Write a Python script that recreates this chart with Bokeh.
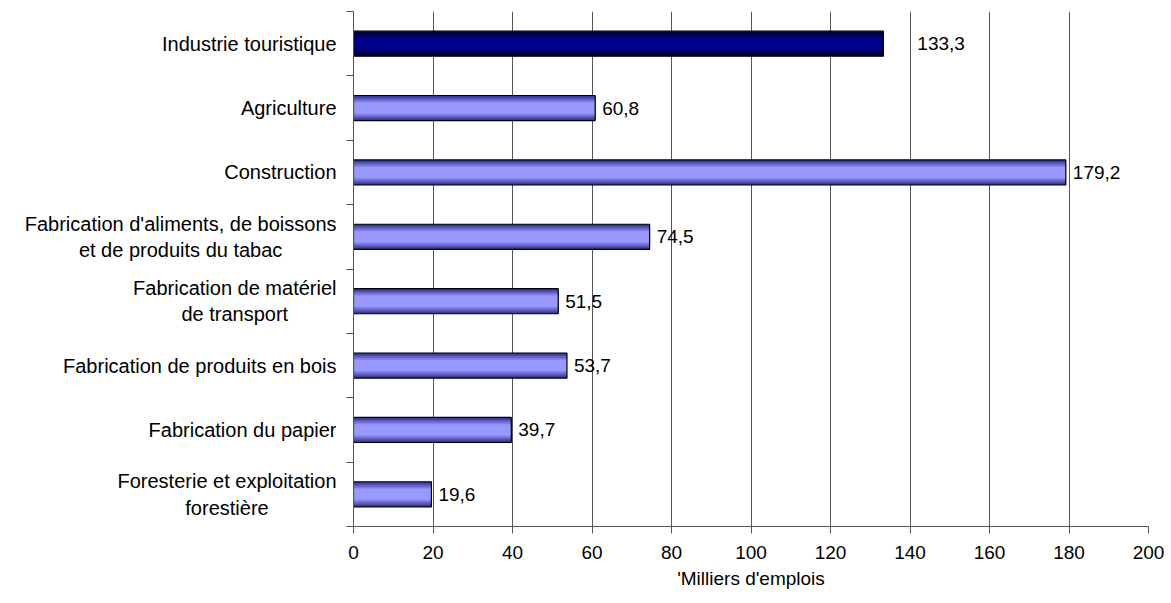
from bokeh.plotting import figure
from bokeh.layouts import row
from bokeh.models import FixedTicker, Range1d, ColumnDataSource, LabelSet
from bokeh.embed import file_html
from bokeh.resources import INLINE
from bokeh.core.properties import value

categories = [
    "Industrie touristique",
    "Agriculture",
    "Construction",
    "Fabrication d'aliments, de boissons\net de produits du tabac",
    "Fabrication de matériel\nde transport",
    "Fabrication de produits en bois",
    "Fabrication du papier",
    "Foresterie et exploitation\nforestière",
]
values = [133.3, 60.8, 179.2, 74.5, 51.5, 53.7, 39.7, 19.6]
value_labels = ["133,3", "60,8", "179,2", "74,5", "51,5", "53,7", "39,7", "19,6"]
x_ticks = [0, 20, 40, 60, 80, 100, 120, 140, 160, 180, 200]
x_title = "'Milliers d'emplois"

FONT = "Liberation Sans"
n = len(categories)
centers = [n - i - 0.5 for i in range(n)]

LEFT_W = 336
H = 596
yr = Range1d(0, n)

p = figure(width=1165 - LEFT_W, height=H, output_backend="svg", toolbar_location=None,
           x_range=Range1d(0, 200), y_range=yr,
           min_border_left=17, min_border_right=17, min_border_top=11, min_border_bottom=70)
p.outline_line_color = None
p.background_fill_color = "white"

# grid
p.ygrid.grid_line_color = None
p.xgrid.ticker = FixedTicker(ticks=x_ticks)
p.xgrid.grid_line_color = "#555555"
p.xgrid.grid_line_width = 1

# x axis
p.xaxis.ticker = FixedTicker(ticks=x_ticks)
p.xaxis.major_tick_out = 7
p.xaxis.major_tick_in = 0
p.xaxis.minor_tick_out = 0
p.xaxis.axis_line_color = "#555555"
p.xaxis.major_tick_line_color = "#555555"
p.xaxis.major_label_text_font = FONT
p.xaxis.major_label_text_font_size = "19px"
p.xaxis.major_label_text_color = "black"
p.xaxis.major_label_standoff = 12
p.xaxis.axis_label = x_title
p.xaxis.axis_label_text_font = FONT
p.xaxis.axis_label_text_font_size = "19px"
p.xaxis.axis_label_text_font_style = "normal"
p.xaxis.axis_label_text_color = "black"
p.xaxis.axis_label_standoff = 6

# y axis (ticks at band boundaries; category text drawn in the left panel)
p.yaxis.ticker = FixedTicker(ticks=centers, minor_ticks=list(range(n + 1)))
p.yaxis.major_label_overrides = {c: "" for c in centers}
p.yaxis.major_label_standoff = 0
p.yaxis.major_tick_out = 0
p.yaxis.major_tick_in = 0
p.yaxis.minor_tick_out = 7
p.yaxis.minor_tick_in = 0
p.yaxis.minor_tick_line_color = "#555555"
p.yaxis.axis_line_color = "#555555"

# category labels panel
lp = figure(width=LEFT_W, height=H, output_backend="svg", toolbar_location=None,
            x_range=Range1d(0, 1), y_range=yr,
            min_border_left=0, min_border_right=0, min_border_top=11, min_border_bottom=70)
lp.axis.visible = False
lp.grid.visible = False
lp.outline_line_color = None
lsrc = ColumnDataSource(dict(y=centers, lab=categories, x=[1] * n))
lp.text(x="x", y="y", text="lab", source=lsrc, anchor="center_right", text_align="center",
        text_font=value(FONT), text_font_size="20px", text_color="black",
        text_line_height=1.2)

# gradient bars via stacked layers
def lerp(c1, c2, t):
    return "#%02x%02x%02x" % tuple(int(round(a + (b - a) * t)) for a, b in zip(c1, c2))

bar_h = 0.39
steps = 14
light_edge, light_mid = (0x30, 0x30, 0x90), (0x99, 0x99, 0xff)
dark_edge, dark_mid = (0x00, 0x00, 0x30), (0x00, 0x00, 0x88)

for k in range(steps):
    t = k / (steps - 1)
    frac = 1 - k / steps
    t2 = min(1.0, t * 1.6)
    cols = [lerp(dark_edge, dark_mid, t2) if i == 0 else lerp(light_edge, light_mid, t2)
            for i in range(n)]
    p.hbar(y=centers, right=values, left=0, height=bar_h * frac,
           fill_color=cols, line_color=None)
p.hbar(y=centers, right=values, left=0, height=bar_h, fill_color=None,
       line_color="black", line_width=1.2)

offs = [34] + [7] * (n - 1)
src = ColumnDataSource(dict(y=centers, x=values, lab=value_labels, off=offs))
labels = LabelSet(x="x", y="y", text="lab", source=src, x_offset="off",
                  text_font=value(FONT), text_font_size="19px", text_color="black",
                  text_baseline="middle", text_align="left")
p.add_layout(labels)

layout = row(lp, p)
open("out.html", "w").write(file_html(layout, INLINE))
